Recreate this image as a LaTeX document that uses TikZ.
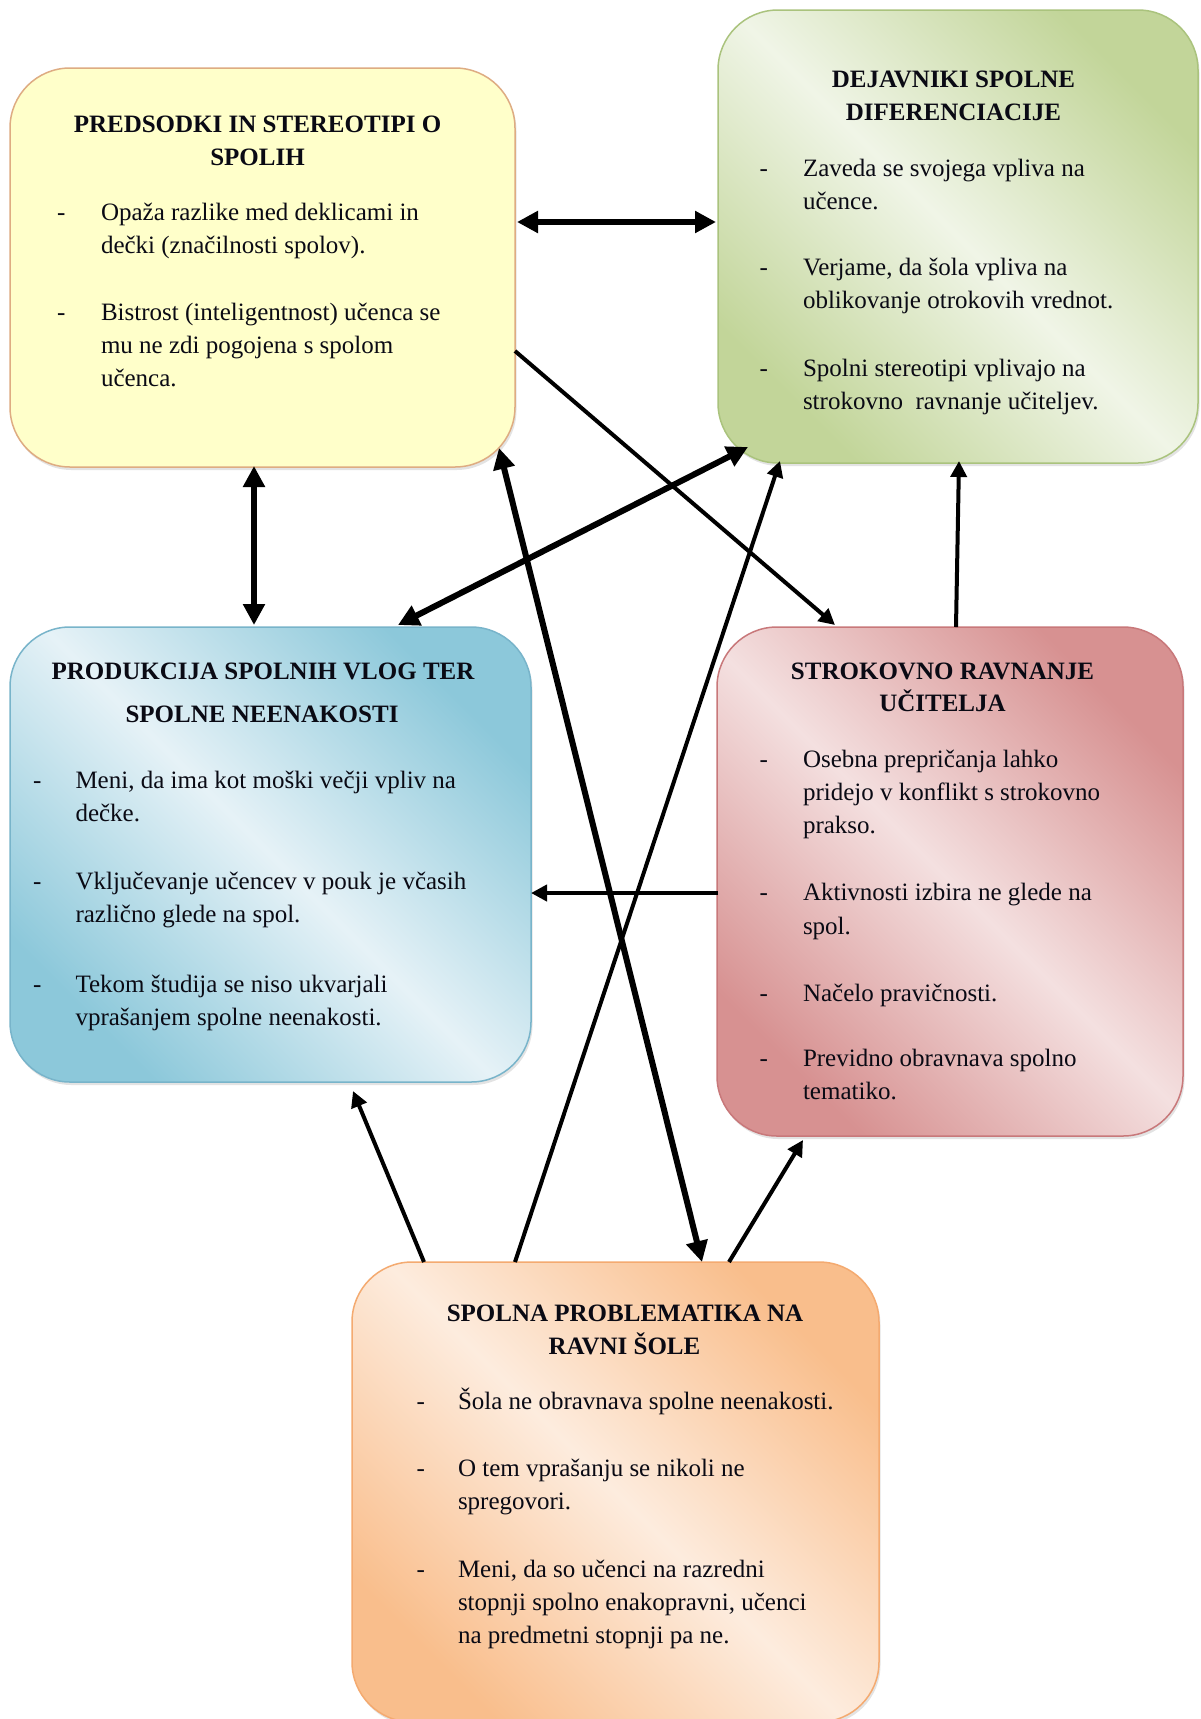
\documentclass[tikz,border=0pt]{standalone}
\usepackage{fontspec}
\setmainfont{Liberation Serif}
\usetikzlibrary{arrows.meta,shadows}
\definecolor{yfill}{RGB}{255,255,202}
\definecolor{ydraw}{RGB}{222,172,130}
\definecolor{gdark}{RGB}{194,213,153}
\definecolor{glight}{RGB}{240,245,231}
\definecolor{gdraw}{RGB}{170,195,125}
\definecolor{bdark}{RGB}{140,200,218}
\definecolor{blight}{RGB}{230,242,247}
\definecolor{bdraw}{RGB}{120,180,202}
\definecolor{rdark}{RGB}{215,145,145}
\definecolor{rlight}{RGB}{244,224,224}
\definecolor{rdraw}{RGB}{200,120,122}
\definecolor{odark}{RGB}{249,190,140}
\definecolor{olight}{RGB}{253,236,222}
\definecolor{odraw}{RGB}{244,170,112}
\definecolor{inktext}{RGB}{10,10,20}
\begin{document}
\begin{tikzpicture}[x=1pt,y=-1pt,
  box/.style={rectangle, rounded corners=60pt, line width=1.5pt, inner sep=0pt, outer sep=0pt,
    drop shadow={opacity=0.22, shadow xshift=1.5pt, shadow yshift=-3pt}},
  txt/.style={anchor=west, inner sep=0pt, outer sep=0pt, text=inktext,
    font=\fontsize{25}{33}\selectfont, text height=17pt, text depth=5pt},
  ttl/.style={anchor=center, inner sep=0pt, outer sep=0pt, text=inktext,
    font=\bfseries\fontsize{25}{33}\selectfont, text height=17pt, text depth=5pt},
  dblarrow/.style={line width=6pt, {Triangle[length=21pt,width=21pt]}-{Triangle[length=21pt,width=21pt]}},
  onearrow/.style={line width=4pt, -{Triangle[length=16pt,width=16pt]}}
]
\useasboundingbox[fill=white] (0,0) rectangle (1201,1719);

% boxes
\node[box, draw=ydraw, fill=yfill, minimum width=505pt, minimum height=399pt] (Y) at (262.5,267.5) {};
\node[box, draw=gdraw, left color=gdark, right color=gdark, middle color=glight, shading angle=135,
      minimum width=480pt, minimum height=453pt] (G) at (958,236.5) {};
\node[box, draw=bdraw, left color=bdark, right color=bdark, middle color=blight, shading angle=135,
      minimum width=521pt, minimum height=455pt] (B) at (270.5,854.5) {};
\node[box, draw=rdraw, left color=rdark, right color=rdark, middle color=rlight, shading angle=135,
      minimum width=466pt, minimum height=509pt] (R) at (950,881.5) {};
\node[box, draw=odraw, left color=odark, right color=odark, middle color=olight, shading angle=135,
      minimum width=527pt, minimum height=460pt] (O) at (615.5,1492) {};

% connectors
\draw[dblarrow] ([shift={(254.5,-45.5)}]Y.center) -- ([shift={(-242,-14.5)}]G.center);
\draw[dblarrow] ([shift={(-8.5,198.5)}]Y.center) -- ([shift={(-16.5,-229.5)}]B.center);
\draw[onearrow] ([shift={(252.5,83.5)}]Y.center) -- ([shift={(-115,-256.5)}]R.center);
\draw[dblarrow] ([shift={(-210,210.5)}]G.center) -- ([shift={(127.5,-229.5)}]B.center);
\draw[dblarrow] ([shift={(236.5,180.5)}]Y.center) -- ([shift={(86.5,-230)}]O.center);
\draw[onearrow] ([shift={(-100.5,-230)}]O.center) -- ([shift={(-178,224.5)}]G.center);
\draw[onearrow] ([shift={(6,-254.5)}]R.center) -- ([shift={(1,224.5)}]G.center);
\draw[onearrow] ([shift={(-232,11.5)}]R.center) -- ([shift={(260.5,38.5)}]B.center);
\draw[onearrow] ([shift={(-191.5,-230)}]O.center) -- ([shift={(82.5,236.5)}]B.center);
\draw[onearrow] ([shift={(113.5,-230)}]O.center) -- ([shift={(-147,258.5)}]R.center);

% yellow texts
\node[ttl] (yt1) at (257.5,126) {PREDSODKI IN STEREOTIPI O};
\node[ttl] (yt2) at (257.5,159) {SPOLIH};
\node[txt] (yd1) at (57,214) {-};
\node[txt] (ya1) at (101,214) {Opaža razlike med deklicami in};
\node[txt] (ya2) at (101,247) {dečki (značilnosti spolov).};
\node[txt] (yd2) at (57,314.5) {-};
\node[txt] (yb1) at (101,314.5) {Bistrost (inteligentnost) učenca se};
\node[txt] (yb2) at (101,347.5) {mu ne zdi pogojena s spolom};
\node[txt] (yb3) at (101,380.5) {učenca.};

% green texts
\node[ttl] (gt1) at (953.5,81) {DEJAVNIKI SPOLNE};
\node[ttl] (gt2) at (953.5,114) {DIFERENCIACIJE};
\node[txt] (gd1) at (759.5,170) {-};
\node[txt] (ga1) at (803,170) {Zaveda se svojega vpliva na};
\node[txt] (ga2) at (803,203) {učence.};
\node[txt] (gd2) at (759.5,269.5) {-};
\node[txt] (gb1) at (803,269.5) {Verjame, da šola vpliva na};
\node[txt] (gb2) at (803,302.5) {oblikovanje otrokovih vrednot.};
\node[txt] (gd3) at (759.5,370.5) {-};
\node[txt] (gc1) at (803,370.5) {Spolni stereotipi vplivajo na};
\node[txt] (gc2) at (803,403.5) {strokovno\ \ ravnanje učiteljev.};

% blue texts
\node[ttl] (bt1) at (263,673) {PRODUKCIJA SPOLNIH VLOG TER};
\node[ttl] (bt2) at (262,716.5) {SPOLNE NEENAKOSTI};
\node[txt] (bd1) at (33,782.5) {-};
\node[txt] (ba1) at (75.5,782.5) {Meni, da ima kot moški večji vpliv na};
\node[txt] (ba2) at (75.5,815.5) {dečke.};
\node[txt] (bd2) at (33,883) {-};
\node[txt] (bb1) at (75.5,883) {Vključevanje učencev v pouk je včasih};
\node[txt] (bb2) at (75.5,916) {različno glede na spol.};
\node[txt] (bd3) at (33,986) {-};
\node[txt] (bc1) at (75.5,986) {Tekom študija se niso ukvarjali};
\node[txt] (bc2) at (75.5,1019) {vprašanjem spolne neenakosti.};

% red texts
\node[ttl] (rt1) at (942.5,673) {STROKOVNO RAVNANJE};
\node[ttl] (rt2) at (942.5,705.5) {UČITELJA};
\node[txt] (rd1) at (759.5,761.5) {-};
\node[txt] (ra1) at (803,761.5) {Osebna prepričanja lahko};
\node[txt] (ra2) at (803,794.5) {pridejo v konflikt s strokovno};
\node[txt] (ra3) at (803,827.5) {prakso.};
\node[txt] (rd2) at (759.5,894) {-};
\node[txt] (rb1) at (803,894) {Aktivnosti izbira ne glede na};
\node[txt] (rb2) at (803,928) {spol.};
\node[txt] (rd3) at (759.5,995) {-};
\node[txt] (rc1) at (803,995) {Načelo pravičnosti.};
\node[txt] (rd4) at (759.5,1060.5) {-};
\node[txt] (re1) at (803,1060.5) {Previdno obravnava spolno};
\node[txt] (re2) at (803,1093.5) {tematiko.};

% orange texts
\node[ttl] (ot1) at (625,1315) {SPOLNA PROBLEMATIKA NA};
\node[ttl] (ot2) at (624.5,1348) {RAVNI ŠOLE};
\node[txt] (od1) at (416.5,1403.5) {-};
\node[txt] (oa1) at (458,1403.5) {Šola ne obravnava spolne neenakosti.};
\node[txt] (od2) at (416.5,1470.5) {-};
\node[txt] (ob1) at (458,1470.5) {O tem vprašanju se nikoli ne};
\node[txt] (ob2) at (458,1503.5) {spregovori.};
\node[txt] (od3) at (416.5,1571.5) {-};
\node[txt] (oc1) at (458,1571.5) {Meni, da so učenci na razredni};
\node[txt] (oc2) at (458,1604.5) {stopnji spolno enakopravni, učenci};
\node[txt] (oc3) at (458,1637) {na predmetni stopnji pa ne.};
\end{tikzpicture}
\end{document}
